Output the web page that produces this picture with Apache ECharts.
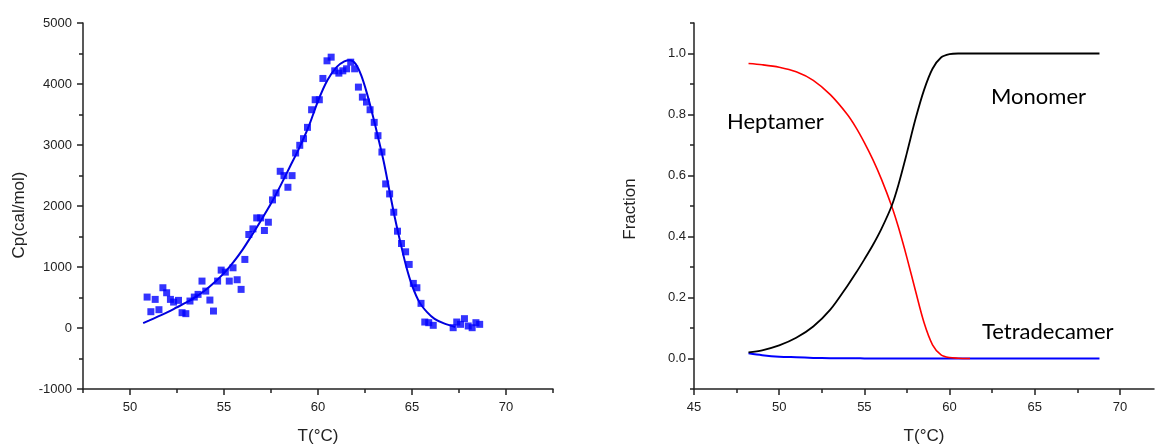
<!DOCTYPE html>
<html><head><meta charset="utf-8">
<script src="https://cdn.jsdelivr.net/npm/echarts@6/dist/echarts.min.js"></script>
<style>html,body{margin:0;padding:0;background:#fff}#c{width:1155px;height:445px}</style>
</head><body><div id="c"></div>
<script>
// ---- Left panel: measured Cp points ----
const cpTemps = [50.91,51.11,51.34,51.54,51.75,51.95,52.15,52.32,52.58,52.77,52.97,53.19,53.42,53.62,53.83,54.03,54.25,54.44,54.66,54.85,55.07,55.28,55.48,55.70,55.91,56.11,56.32,56.54,56.74,56.95,57.15,57.36,57.58,57.77,57.99,58.19,58.40,58.62,58.81,59.03,59.23,59.44,59.66,59.85,60.07,60.26,60.48,60.70,60.89,61.11,61.32,61.52,61.74,61.95,62.15,62.36,62.58,62.77,62.99,63.19,63.40,63.60,63.81,64.03,64.23,64.44,64.66,64.85,65.07,65.26,65.48,65.68,65.89,66.13,67.19,67.38,67.58,67.79,67.99,68.20,68.40,68.60];
const cpValues = [507,267,469,300,660,578,469,425,453,251,235,442,507,551,769,605,458,278,769,949,916,769,987,791,633,1124,1533,1625,1805,1805,1598,1734,2100,2214,2569,2498,2307,2498,2869,2995,3104,3289,3578,3742,3742,4091,4380,4440,4216,4178,4216,4249,4358,4249,3949,3785,3704,3578,3371,3153,2885,2362,2198,1898,1587,1385,1249,1042,731,660,404,98,87,44,5,98,60,153,33,5,87,60];
// ---- Left panel: fitted curve ----
const fitTemps = [50.7,51,51.5,52,52.5,53,53.5,54,54.5,55,55.5,56,56.5,57,57.5,58,58.5,59,59.5,60,60.5,61,61.4,61.7,62,62.3,62.6,62.9,63.2,63.5,63.8,64.1,64.4,64.7,65,65.4,65.8,66.2,66.7,67.3];
const fitValues = [80,120,190,260,340,420,510,620,750,900,1080,1290,1530,1780,2040,2330,2640,2950,3300,3720,4060,4280,4370,4390,4330,4140,3850,3500,3120,2720,2250,1790,1380,1000,700,420,260,150,75,15];
// ---- Right panel: species fractions ----
const fracTemps = [48.2,49,50,51,52,53,54,54.5,55,55.5,56,56.6,57,57.5,58,58.5,59,59.5,60,60.5,61.2,63,65,67,68.8];
const monomer = [0.020,0.027,0.043,0.068,0.105,0.160,0.238,0.280,0.325,0.372,0.425,0.500,0.570,0.675,0.785,0.880,0.950,0.987,0.998,1.0,1.0,1.0,1.0,1.0,1.0];
const heptamer = [0.967,0.963,0.955,0.940,0.912,0.865,0.800,0.758,0.708,0.652,0.588,0.500,0.430,0.330,0.222,0.118,0.045,0.012,0.003,0.001,0.0,null,null,null,null];
const tetradecamer = [0.017,0.011,0.006,0.004,0.002,0.001,0.0007,0.0005,0.0004,0.0003,0.0002,0.0001,0,0,0,0,0,0,0,0,0,0,0,0,0];
// ---- Tick values ----
const leftXMajor = [50,55,60,65,70];
const leftXMinor = [47.5,52.5,57.5,62.5,67.5,72.5];
const leftYMajor = [-1000,0,1000,2000,3000,4000,5000];
const leftYMinor = [-500,500,1500,2500,3500,4500];
const rightXMajor = [45,50,55,60,65,70];
const rightXMinor = [47.5,52.5,57.5,62.5,67.5];
const rightYMajor = [0,0.2,0.4,0.6,0.8,1.0];
const rightYMinor = [-0.1,0.1,0.3,0.5,0.7,0.9,1.1];

const AX = '#222';
const FONT = "'Liberation Sans', Arial, sans-serif";
function mainAxis(gi, min, max, major, pos, fmt, margin, name, nameGap, namePad) {
  return {
    type: 'value', gridIndex: gi, min: min, max: max, position: pos,
    axisLine: {show: true, onZero: false, lineStyle: {color: AX, width: 1.5}},
    axisTick: {show: true, customValues: major, length: 6, lineStyle: {color: AX, width: 1.5}},
    axisLabel: {customValues: major, formatter: fmt, margin: margin, color: AX, fontSize: 13, fontFamily: FONT},
    splitLine: {show: false},
    name: name, nameLocation: 'middle', nameGap: nameGap,
    nameTextStyle: {fontSize: 17, color: AX, fontFamily: FONT, padding: namePad}
  };
}
function minorAxis(gi, min, max, minor, pos) {
  return {
    type: 'value', gridIndex: gi, min: min, max: max, position: pos,
    axisLine: {show: false, onZero: false},
    axisTick: {show: true, customValues: minor, length: 4, lineStyle: {color: AX, width: 1.5}},
    axisLabel: {show: false}, splitLine: {show: false}
  };
}
const intFmt = v => String(v);
const decFmt = v => v.toFixed(1);

const zip = (a, b) => a.map((x, i) => [x, b[i]]);

const chart = echarts.init(document.getElementById('c'));
chart.setOption({
  animation: false,
  backgroundColor: '#fff',
  grid: [
    {left: 83, top: 23, width: 470, height: 366, outerBoundsMode: 'none', containLabel: false},
    {left: 694, top: 23, width: 460, height: 366, outerBoundsMode: 'none', containLabel: false}
  ],
  xAxis: [
    mainAxis(0, 47.5, 72.5, leftXMajor, 'bottom', intFmt, 12, 'T(°C)', 39, 0),
    minorAxis(0, 47.5, 72.5, leftXMinor, 'bottom'),
    mainAxis(1, 45, 72, rightXMajor, 'bottom', intFmt, 12, 'T(°C)', 39, 0),
    minorAxis(1, 45, 72, rightXMinor, 'bottom')
  ],
  yAxis: [
    mainAxis(0, -1000, 5000, leftYMajor, 'left', intFmt, 11, 'Cp(cal/mol)', 55, [0, 18, 0, 0]),
    minorAxis(0, -1000, 5000, leftYMinor, 'left'),
    mainAxis(1, -0.1, 1.1, rightYMajor, 'left', decFmt, 8, 'Fraction', 55, [0, 6, 0, 0]),
    minorAxis(1, -0.1, 1.1, rightYMinor, 'left')
  ],
  series: [
    {type: 'line', xAxisIndex: 0, yAxisIndex: 0, data: zip(fitTemps, fitValues), showSymbol: false,
     smooth: 0.3, lineStyle: {color: '#0000dd', width: 2}, z: 2},
    {type: 'scatter', xAxisIndex: 0, yAxisIndex: 0, data: zip(cpTemps, cpValues), symbol: 'rect', symbolSize: 7,
     itemStyle: {color: '#0000ff'}, z: 3},
    {type: 'line', name: 'Tetradecamer', xAxisIndex: 2, yAxisIndex: 2, data: zip(fracTemps, tetradecamer), showSymbol: false,
     smooth: 0.3, lineStyle: {color: '#0000ff', width: 2}},
    {type: 'line', name: 'Heptamer', xAxisIndex: 2, yAxisIndex: 2, data: zip(fracTemps, heptamer), showSymbol: false,
     smooth: 0.3, lineStyle: {color: '#ff0000', width: 1.6}},
    {type: 'line', name: 'Monomer', xAxisIndex: 2, yAxisIndex: 2, data: zip(fracTemps, monomer), showSymbol: false,
     smooth: 0.3, lineStyle: {color: '#000000', width: 1.8}}
  ],
  graphic: [
    {type: 'text', left: 727, top: 111, style: {text: 'Heptamer', font: "22px Lato, 'Open Sans', sans-serif", fill: '#000'}},
    {type: 'text', left: 991, top: 86, style: {text: 'Monomer', font: "22px Lato, 'Open Sans', sans-serif", fill: '#000'}},
    {type: 'text', left: 982, top: 321, style: {text: 'Tetradecamer', font: "22px Lato, 'Open Sans', sans-serif", fill: '#000'}}
  ]
});
</script>
</body></html>
